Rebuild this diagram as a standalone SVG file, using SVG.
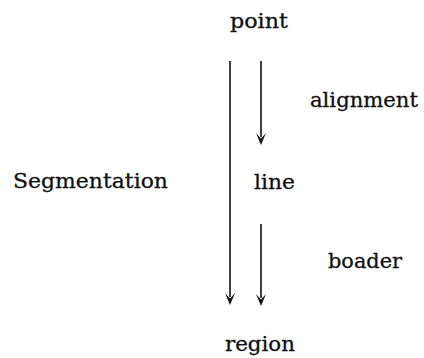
<svg xmlns="http://www.w3.org/2000/svg" width="424" height="358" viewBox="0 0 424 358">
<defs>
<style>
.t{font-family:"DejaVu Serif","Liberation Serif",serif;font-size:20px;fill:#111;stroke:#111;stroke-width:0.3}
.c{stroke:#111;stroke-width:1.6;fill:none}
.h{fill:#111;stroke:none}
</style>
<path id="ah" d="M0,0 L-5,-12 Q-1.6,-8 0,-6.5 Q1.6,-8 5,-12 Z"/>
</defs>
<rect width="424" height="358" fill="#fff"/>
<g id="point"><text class="t" x="230" y="28" textLength="58" lengthAdjust="spacingAndGlyphs">point</text></g>
<g id="segmentation"><text class="t" x="13" y="188" textLength="155" lengthAdjust="spacingAndGlyphs">Segmentation</text></g>
<g id="alignment"><text class="t" x="310" y="107" textLength="108" lengthAdjust="spacingAndGlyphs">alignment</text></g>
<g id="line"><text class="t" x="254" y="189" textLength="41" lengthAdjust="spacingAndGlyphs">line</text></g>
<g id="boader"><text class="t" x="328" y="268" textLength="74" lengthAdjust="spacingAndGlyphs">boader</text></g>
<g id="region"><text class="t" x="225" y="351" textLength="70" lengthAdjust="spacingAndGlyphs">region</text></g>
<g id="connectors">
<line class="c" x1="230" y1="61" x2="230" y2="297"/>
<use href="#ah" class="h" transform="translate(230,305)"/>
<line class="c" x1="261" y1="61" x2="261" y2="137"/>
<use href="#ah" class="h" transform="translate(261,145)"/>
<line class="c" x1="261" y1="224" x2="261" y2="298"/>
<use href="#ah" class="h" transform="translate(261,306)"/>
</g>
</svg>
